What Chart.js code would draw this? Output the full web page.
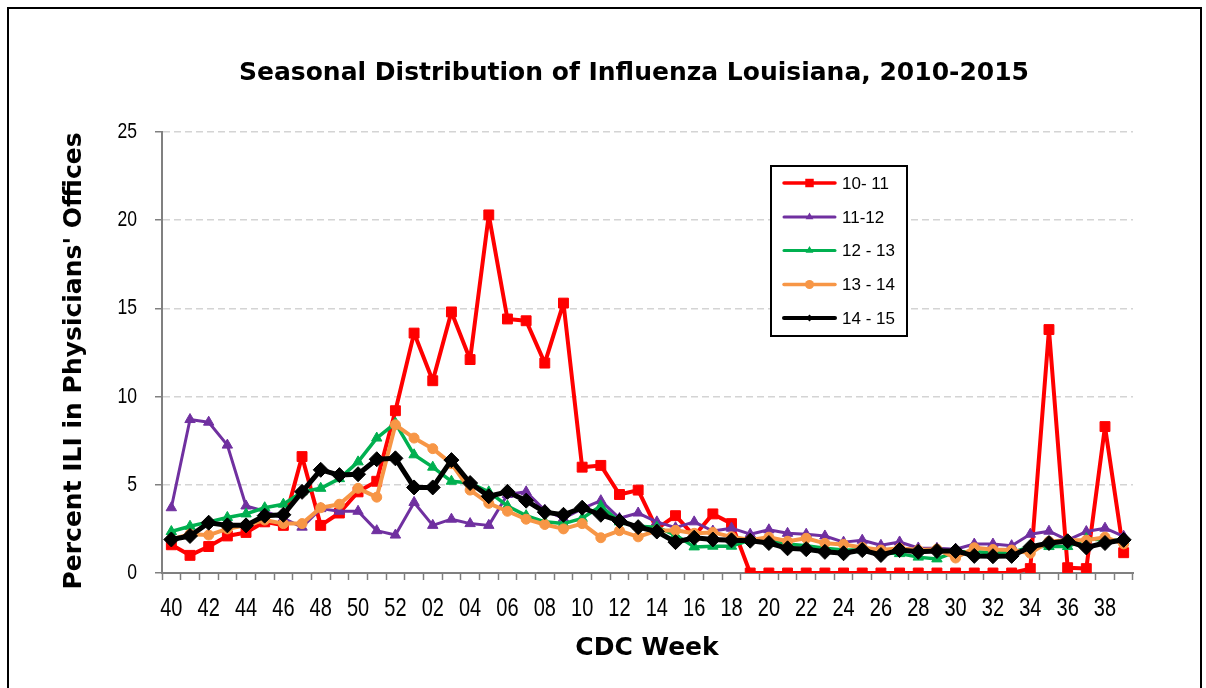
<!DOCTYPE html>
<html><head><meta charset="utf-8">
<script src="https://cdn.jsdelivr.net/npm/chart.js@4.4.1/dist/chart.umd.min.js"></script>
<style>
html,body{margin:0;padding:0;background:#fff;}
#wrap{position:relative;width:1206px;height:688px;overflow:hidden;background:#fff;}
#frame{position:absolute;left:7px;top:7px;width:1195px;height:720px;border:2px solid #000;box-sizing:border-box;}
canvas{position:absolute;left:0;top:0;}
</style></head><body>
<div id="wrap"><div id="frame"></div><canvas id="c" width="1206" height="688"></canvas></div>
<script>
const TITLE = 'Seasonal Distribution of Influenza Louisiana, 2010-2015';
const Y_TITLE = "Percent ILI in Physicians' Offices";
const X_TITLE = 'CDC Week';

const WEEKS = ['40','41','42','43','44','45','46','47','48','49','50','51','52',
  '01','02','03','04','05','06','07','08','09','10','11','12','13','14','15','16','17','18','19',
  '20','21','22','23','24','25','26','27','28','29','30','31','32','33','34','35','36','37','38','39'];
const X_TICK_LABELS = ['40','42','44','46','48','50','52','02','04','06','08','10','12','14','16','18',
  '20','22','24','26','28','30','32','34','36','38'];
const Y_TICKS = [0, 5, 10, 15, 20, 25];

const SERIES_NAMES = ['10- 11', '11-12', '12 - 13', '13 - 14', '14 - 15'];

const S_1011 = [1.6, 1.0, 1.5, 2.1, 2.3, 2.9, 2.7, 6.6, 2.7, 3.4, 4.6, 5.2, 9.2,
  13.6, 10.9, 14.8, 12.1, 20.3, 14.4, 14.3, 11.9, 15.3, 6.0, 6.1, 4.45, 4.7, 2.5, 3.25, 2.1, 3.35, 2.8, 0,
  0, 0, 0, 0, 0, 0, 0, 0, 0, 0, 0, 0, 0, 0, 0.25, 13.8, 0.3, 0.25, 8.3, 1.15];
const S_1112 = [3.7, 8.7, 8.55, 7.25, 3.8, 3.5, 3.1, 2.6, 3.65, 3.5, 3.5, 2.4, 2.15,
  4.0, 2.7, 3.05, 2.8, 2.7, 4.45, 4.6, 3.55, 3.1, 3.65, 4.1, 3.1, 3.4, 2.9, 2.57, 2.9, 2.38, 2.54, 2.2,
  2.45, 2.25, 2.2, 2.1, 1.75, 1.86, 1.57, 1.76, 1.42, 1.4, 1.35, 1.64, 1.64, 1.55, 2.2, 2.37, 1.86, 2.35, 2.54, 2.08];
const S_1213 = [2.35, 2.65, 2.9, 3.15, 3.35, 3.7, 3.9, 4.6, 4.8, 5.35, 6.3, 7.65, 8.5,
  6.7, 6.0, 5.2, 5.1, 4.6, 3.8, 3.25, 2.9, 2.8, 3.1, 3.8, 2.9, 2.65, 2.6, 2.15, 1.48, 1.52, 1.52, 1.87,
  1.9, 1.65, 1.55, 1.4, 1.3, 1.3, 1.15, 1.1, 0.9, 0.8, 1.2, 1.2, 1.15, 1.15, 1.5, 1.5, 1.5, 1.95, 1.85, 1.85];
const S_1314 = [1.9, 2.2, 2.15, 2.5, 2.7, 3.0, 2.8, 2.8, 3.7, 3.9, 4.8, 4.3, 8.4,
  7.65, 7.05, 6.2, 4.7, 3.95, 3.5, 3.05, 2.75, 2.5, 2.8, 2.0, 2.4, 2.05, 2.4, 2.42, 2.25, 2.3, 2.05, 1.87,
  2.03, 1.8, 1.97, 1.68, 1.62, 1.45, 1.3, 1.4, 1.3, 1.35, 0.85, 1.43, 1.33, 1.3, 1.12, 1.79, 1.85, 1.86, 2.03, 1.65];
const S_1415 = [1.9, 2.1, 2.85, 2.7, 2.7, 3.25, 3.3, 4.6, 5.85, 5.55, 5.6, 6.45, 6.5,
  4.85, 4.85, 6.4, 5.1, 4.35, 4.6, 4.1, 3.45, 3.3, 3.7, 3.3, 2.95, 2.6, 2.35, 1.75, 2.0, 1.9, 1.85, 1.83,
  1.7, 1.4, 1.35, 1.2, 1.12, 1.3, 1.02, 1.3, 1.2, 1.25, 1.25, 0.97, 0.95, 0.97, 1.48, 1.7, 1.8, 1.45, 1.7, 1.88];

const STYLES = [
  {color:'#FF0000', style:'rect', radius:7, width:4, lr:6, lw:3.5},
  {color:'#7030A0', style:'triangle', radius:6, width:3, lr:4.5, lw:3},
  {color:'#00B050', style:'triangle', radius:6, width:3.5, lr:4.5, lw:3},
  {color:'#F79646', style:'circle', radius:5, width:4, lr:4.5, lw:3.5},
  {color:'#000000', style:'rectRot', radius:7.5, width:5, lr:3.5, lw:4}
];
const ALL = [S_1011, S_1112, S_1213, S_1314, S_1415];

const datasets = ALL.map((d, i) => ({
  label: SERIES_NAMES[i],
  data: d,
  borderColor: STYLES[i].color,
  backgroundColor: STYLES[i].color,
  pointBackgroundColor: STYLES[i].color,
  pointBorderColor: STYLES[i].color,
  pointStyle: STYLES[i].style,
  pointRadius: STYLES[i].radius,
  pointHoverRadius: STYLES[i].radius,
  pointBorderWidth: 1,
  borderWidth: STYLES[i].width,
  borderJoinStyle: 'round',
  borderCapStyle: 'round',
  tension: 0,
  fill: false,
  order: 4 - i
}));

function drawMarker(ctx, style, x, y, r) {
  ctx.beginPath();
  if (style === 'rect') {
    const s = r * Math.SQRT1_2;
    ctx.rect(x - s, y - s, 2 * s, 2 * s);
  } else if (style === 'triangle') {
    for (let k = 0; k < 3; k++) {
      const a = k * 2 * Math.PI / 3;
      const px = x + Math.sin(a) * r, py = y - Math.cos(a) * r;
      if (k === 0) ctx.moveTo(px, py); else ctx.lineTo(px, py);
    }
    ctx.closePath();
  } else if (style === 'circle') {
    ctx.arc(x, y, r, 0, Math.PI * 2);
  } else if (style === 'rectRot') {
    ctx.moveTo(x - r, y); ctx.lineTo(x, y - r); ctx.lineTo(x + r, y); ctx.lineTo(x, y + r);
    ctx.closePath();
  }
  ctx.fill();
}

const NARROW = 0.8;
function narrowText(ctx, text, x, y, align) {
  ctx.save();
  ctx.translate(x, y);
  ctx.scale(NARROW, 1);
  ctx.textAlign = align;
  ctx.fillText(text, 0, 0);
  ctx.restore();
}

const textPlugin = {
  id: 'textPlugin',
  afterDraw(chart) {
    const ctx = chart.ctx;
    const xs = chart.scales.x, ys = chart.scales.y;
    ctx.save();
    ctx.fillStyle = '#000';

    // tick labels (condensed, positioned by the scales)
    ctx.textBaseline = 'alphabetic';
    ctx.font = '25px "Liberation Sans", Arial, sans-serif';
    WEEKS.forEach((w, i) => {
      if (X_TICK_LABELS.includes(w)) narrowText(ctx, w, xs.getPixelForValue(i), ys.bottom + 43, 'center');
    });
    ctx.font = '22px "Liberation Sans", Arial, sans-serif';
    ctx.textBaseline = 'middle';
    Y_TICKS.forEach(v => narrowText(ctx, String(v), ys.left + ys.width - 25, ys.getPixelForValue(v), 'right'));

    // titles
    ctx.font = 'bold 25px "DejaVu Sans"';
    ctx.textAlign = 'center';
    ctx.textBaseline = 'alphabetic';
    ctx.fillText(TITLE, 634, 80);
    ctx.fillText(X_TITLE, 647, 655);
    ctx.save();
    ctx.translate(81, 361);
    ctx.rotate(-Math.PI / 2);
    ctx.fillText(Y_TITLE, 0, 0);
    ctx.restore();

    // legend
    const bx = 771, by = 166, bw = 136, bh = 170;
    ctx.fillStyle = '#fff';
    ctx.fillRect(bx, by, bw, bh);
    ctx.lineWidth = 2;
    ctx.strokeStyle = '#000';
    ctx.strokeRect(bx, by, bw, bh);
    const rowsY = [183, 217, 250.5, 284.5, 318];
    ctx.font = '17px "Liberation Sans", Arial, sans-serif';
    ctx.textAlign = 'left';
    ctx.textBaseline = 'middle';
    SERIES_NAMES.forEach((name, i) => {
      const st = STYLES[i];
      const y = rowsY[i];
      ctx.strokeStyle = st.color;
      ctx.lineWidth = st.lw;
      ctx.lineCap = 'round';
      ctx.beginPath();
      ctx.moveTo(784, y); ctx.lineTo(835, y);
      ctx.stroke();
      ctx.fillStyle = st.color;
      drawMarker(ctx, st.style, 809.5, y, st.lr);
      ctx.fillStyle = '#000';
      ctx.fillText(name, 842, y + 1);
    });
    ctx.restore();
  }
};

new Chart(document.getElementById('c'), {
  type: 'line',
  data: { labels: WEEKS, datasets },
  options: {
    responsive: false,
    animation: false,
    devicePixelRatio: 1,
    layout: { padding: { top: 132, right: 73, left: 0, bottom: 0 } },
    plugins: { legend: { display: false }, title: { display: false }, tooltip: { enabled: false } },
    scales: {
      x: {
        type: 'category',
        offset: true,
        afterFit(scale) { scale.height = 115; },
        grid: { offset: true, drawOnChartArea: false, drawTicks: true, tickLength: 7,
                tickColor: '#808080', tickWidth: 1.5, color: '#808080' },
        border: { display: true, color: '#808080', width: 2 },
        ticks: { display: false, autoSkip: false, maxRotation: 0, minRotation: 0 }
      },
      y: {
        min: 0, max: 25,
        afterFit(scale) { scale.width = 162; },
        afterBuildTicks(scale) { scale.ticks = Y_TICKS.map(v => ({ value: v })); },
        grid: {
          color: (c) => (c.tick && c.tick.value === 0) ? 'rgba(0,0,0,0)' : '#D4D4D4',
          lineWidth: 1.5, tickLength: 7, tickColor: '#808080', tickWidth: 1.5, tickBorderDash: []
        },
        border: { display: true, color: '#808080', width: 2, dash: [7, 4] },
        ticks: { display: false }
      }
    }
  },
  plugins: [textPlugin]
});
</script>
</body></html>
